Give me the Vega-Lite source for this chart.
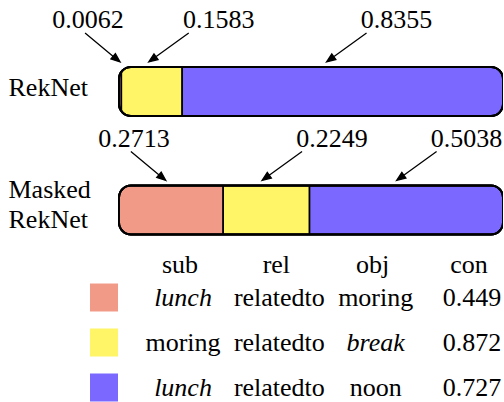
{
  "$schema": "https://vega.github.io/schema/vega-lite/v6.json",
  "padding": {"left": 8, "top": 0, "right": -12, "bottom": 0},
  "bounds": "flush",
  "spacing": 47.5,
  "config": {"view": {"stroke": null}},
  "datasets": {
    "bars": [
      {"model": "RekNet", "seg": "sub", "ord": 1, "value": 0.0062},
      {"model": "RekNet", "seg": "rel", "ord": 2, "value": 0.1583},
      {"model": "RekNet", "seg": "obj", "ord": 3, "value": 0.8355},
      {"model": "Masked RekNet", "seg": "sub", "ord": 1, "value": 0.2713},
      {"model": "Masked RekNet", "seg": "rel", "ord": 2, "value": 0.2249},
      {"model": "Masked RekNet", "seg": "obj", "ord": 3, "value": 0.5038}
    ],
    "cells": [
      {"row": "r1", "col": "sub", "text": "lunch", "it": true},
      {"row": "r1", "col": "rel", "text": "relatedto", "it": false},
      {"row": "r1", "col": "obj", "text": "moring", "it": false},
      {"row": "r1", "col": "con", "text": "0.449", "it": false},
      {"row": "r2", "col": "sub", "text": "moring", "it": false},
      {"row": "r2", "col": "rel", "text": "relatedto", "it": false},
      {"row": "r2", "col": "obj", "text": "break", "it": true},
      {"row": "r2", "col": "con", "text": "0.872", "it": false},
      {"row": "r3", "col": "sub", "text": "lunch", "it": true},
      {"row": "r3", "col": "rel", "text": "relatedto", "it": false},
      {"row": "r3", "col": "obj", "text": "noon", "it": false},
      {"row": "r3", "col": "con", "text": "0.727", "it": false}
    ],
    "headers": [
      {"col": "sub", "text": "sub"},
      {"col": "rel", "text": "rel"},
      {"col": "obj", "text": "obj"},
      {"col": "con", "text": "con"}
    ],
    "swatches": [
      {"row": "r1", "seg": "sub"},
      {"row": "r2", "seg": "rel"},
      {"row": "r3", "seg": "obj"}
    ]
  },
  "vconcat": [
    {
      "width": 384,
      "height": 250,
      "data": {"name": "bars"},
      "encoding": {
        "y": {
          "field": "model",
          "type": "nominal",
          "sort": ["RekNet", "Masked RekNet"],
          "scale": {"paddingInner": 0.5865, "paddingOuter": 0.348, "align": 0.812},
          "axis": {
            "title": null,
            "domain": false,
            "ticks": false,
            "labelFont": "Liberation Serif",
            "labelFontSize": 26,
            "labelColor": "black",
            "labelAlign": "left",
            "labelBaseline": "middle",
            "labelPadding": 111,
            "labelLineHeight": 30,
            "labelOffset": {"condition": {"test": "datum.value == 'Masked RekNet'", "value": -20}, "value": -3},
            "labelExpr": "datum.value == 'Masked RekNet' ? ['Masked', 'RekNet'] : datum.value"
          }
        }
      },
      "layer": [
        {
          "mark": {"type": "bar", "stroke": "black", "strokeWidth": 1.6},
          "encoding": {
            "x": {"field": "value", "type": "quantitative", "stack": "zero", "scale": {"domain": [0, 1]}, "axis": null},
            "color": {"field": "seg", "type": "nominal", "scale": {"domain": ["sub", "rel", "obj"], "range": ["#F29A88", "#FFF566", "#7B68FF"]}, "legend": null},
            "order": {"field": "ord", "type": "quantitative"}
          }
        },
        {
          "mark": {"type": "bar", "fill": null, "fillOpacity": 0, "stroke": "white", "strokeWidth": 12, "height": 61, "cornerRadius": 18, "xOffset": -6, "x2Offset": 6},
          "encoding": {
            "x": {"datum": 0, "type": "quantitative"},
            "x2": {"datum": 1}
          }
        },
        {
          "mark": {"type": "bar", "fill": null, "fillOpacity": 0, "stroke": "black", "strokeWidth": 2, "cornerRadius": 12},
          "encoding": {
            "x": {"datum": 0, "type": "quantitative"},
            "x2": {"datum": 1}
          }
        },
        {
          "mark": {"type": "point", "filled": true, "fill": "black", "stroke": "black", "strokeWidth": 1.3, "opacity": 1, "size": 6400, "yOffset": -29.5},
          "encoding": {
            "x": {"field": "value", "type": "quantitative", "stack": "zero", "bandPosition": 0.45},
            "shape": {"field": "seg", "type": "nominal", "scale": {"domain": ["sub", "rel", "obj"], "range": ["M-0.875,-0.725L-0.17,-0.14M0,0L-0.229,-0.076L-0.117,-0.211Z", "M1,-0.725L0.17,-0.125M0,0L0.233,-0.061L0.131,-0.203Z", "M1,-0.725L0.17,-0.125M0,0L0.233,-0.061L0.131,-0.203Z"]}, "legend": null},
            "order": {"field": "ord", "type": "quantitative"}
          }
        },
        {
          "mark": {"type": "text", "font": "Liberation Serif", "fontSize": 26, "color": "black", "baseline": "middle", "align": "center", "dy": -71, "dx": -32},
          "encoding": {
            "x": {"field": "value", "type": "quantitative", "stack": "zero", "bandPosition": 0.45},
            "detail": {"field": "seg", "type": "nominal"},
            "order": {"field": "ord", "type": "quantitative"},
            "text": {"condition": {"test": "datum.seg === 'sub'", "field": "value", "type": "quantitative", "format": ".4f"}, "value": ""}
          }
        },
        {
          "mark": {"type": "text", "font": "Liberation Serif", "fontSize": 26, "color": "black", "baseline": "middle", "align": "center", "dy": -71, "dx": 70},
          "encoding": {
            "x": {"field": "value", "type": "quantitative", "stack": "zero", "bandPosition": 0.45},
            "detail": {"field": "seg", "type": "nominal"},
            "order": {"field": "ord", "type": "quantitative"},
            "text": {"condition": {"test": "datum.seg !== 'sub'", "field": "value", "type": "quantitative", "format": ".4f"}, "value": ""}
          }
        }
      ]
    },
    {
      "width": 384,
      "height": 90,
      "encoding": {
        "y": {"field": "row", "type": "nominal", "scale": {"type": "point", "domain": ["r1", "r2", "r3"], "padding": 0}, "axis": null},
        "x": {"field": "col", "type": "nominal", "scale": {"type": "point", "domain": ["sub", "rel", "obj", "con"], "padding": 0.493, "align": 0.674}, "axis": null}
      },
      "layer": [
        {
          "data": {"name": "swatches"},
          "mark": {"type": "point", "shape": "square", "filled": true, "opacity": 1, "size": 784, "xOffset": -79},
          "encoding": {
            "x": {"datum": "sub", "type": "nominal"},
            "color": {"field": "seg", "type": "nominal", "scale": {"domain": ["sub", "rel", "obj"], "range": ["#F29A88", "#FFF566", "#7B68FF"]}, "legend": null}
          }
        },
        {
          "data": {"name": "cells"},
          "transform": [{"filter": "!datum.it"}],
          "mark": {"type": "text", "font": "Liberation Serif", "fontSize": 26, "color": "black", "baseline": "middle", "align": "center"},
          "encoding": {"text": {"field": "text", "type": "nominal"}}
        },
        {
          "data": {"name": "cells"},
          "transform": [{"filter": "datum.it"}],
          "mark": {"type": "text", "font": "Liberation Serif", "fontSize": 26, "fontStyle": "italic", "color": "black", "baseline": "middle", "align": "center"},
          "encoding": {"text": {"field": "text", "type": "nominal"}}
        },
        {
          "data": {"name": "headers"},
          "mark": {"type": "text", "font": "Liberation Serif", "fontSize": 26, "color": "black", "baseline": "middle", "align": "center", "dy": -32.5, "dx": -3},
          "encoding": {
            "y": {"datum": "r1", "type": "nominal"},
            "text": {"field": "text", "type": "nominal"}
          }
        }
      ]
    }
  ]
}
